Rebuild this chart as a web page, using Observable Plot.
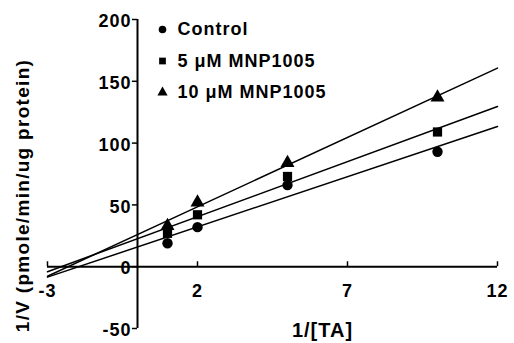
<!DOCTYPE html>
<html><head><meta charset="utf-8">
<script src="https://cdn.jsdelivr.net/npm/d3@7"></script>
<script src="https://cdn.jsdelivr.net/npm/@observablehq/plot@0.6"></script>
<style>
body{margin:0;background:#fff;}
#chart{width:514px;height:343px;}
</style></head><body><div id="chart"></div>
<script>
const xValues = [1, 2, 5, 10];
const seriesNames = ["Control", "5 μM MNP1005", "10 μM MNP1005"];
const seriesSymbols = ["circle", "square", "triangle"];
const control = [19, 32, 66, 93];
const mnp5 = [27, 42, 73, 109];
const mnp10 = [33, 52, 84, 137];
const xTicks = [-3, 2, 7, 12];
const yTicks = [-50, 0, 50, 100, 150, 200];
const xTitle = "1/[TA]";
const yTitle = "1/V (pmole/min/ug protein)";
const lineExtent = [-3, 12];

const seriesValues = [control, mnp5, mnp10];
const points = [];
seriesValues.forEach((ys, s) => ys.forEach((y, i) => points.push({series: seriesNames[s], x: xValues[i], y})));

function fit(ys) {
  const mx = d3.mean(xValues), my = d3.mean(ys);
  let sxy = 0, sxx = 0;
  xValues.forEach((x, i) => { sxy += (x - mx) * (ys[i] - my); sxx += (x - mx) ** 2; });
  const b = sxy / sxx;
  return {a: my - b * mx, b};
}
const fitLines = [];
seriesValues.forEach((ys, s) => {
  const {a, b} = fit(ys);
  lineExtent.forEach(x => fitLines.push({series: seriesNames[s], x, y: a + b * x}));
});

const font = "'Liberation Sans', Arial, Helvetica, sans-serif";
const legendMarks = seriesNames.flatMap((name, i) => [
  Plot.dot([name], {frameAnchor: "top-left", dx: 115, dy: 10 + 31.5 * i, symbol: seriesSymbols[i], fill: "black", r: 3.8}),
  Plot.text([name], {frameAnchor: "top-left", dx: 130, dy: 10 + 31.5 * i, text: d => d, textAnchor: "start", lineAnchor: "middle", fontSize: 18, fontWeight: "bold", fill: "black"})
]);

const chart = Plot.plot({
  width: 514, height: 343,
  marginLeft: 47, marginRight: 17, marginTop: 19, marginBottom: 15,
  x: {domain: [-3, 12], axis: null},
  y: {domain: [-50, 200], axis: null},
  symbol: {domain: seriesNames, range: seriesSymbols},
  style: {fontFamily: font, background: "white", color: "black"},
  marks: [
    Plot.ruleY([0], {x1: xTicks[0], x2: xTicks[xTicks.length - 1], stroke: "black", strokeWidth: 2}),
    Plot.ruleX([0], {y1: yTicks[0], y2: yTicks[yTicks.length - 1], stroke: "black", strokeWidth: 2}),
    Plot.ruleX(xTicks, {x: d => d, y1: 0, y2: 4, stroke: "black", strokeWidth: 1.5}),
    Plot.ruleY(yTicks, {y: d => d, x1: 0, x2: -0.17, stroke: "black", strokeWidth: 1.5}),
    Plot.text(xTicks, {x: d => d, y: 0, dy: 25, text: d => String(d), fontSize: 18, fontWeight: "bold", fill: "black"}),
    Plot.text(yTicks, {x: 0, y: d => d, dx: -6, dy: 2, text: d => String(d), textAnchor: "end", fontSize: 18, fontWeight: "bold", fill: "black"}),
    Plot.line(fitLines, {x: "x", y: "y", z: "series", stroke: "black", strokeWidth: 1.5}),
    Plot.dot(points, {x: "x", y: "y", symbol: "series", fill: "black", r: 5.2}),
    ...legendMarks,
    Plot.text([xTitle], {frameAnchor: "bottom", dx: 50, dy: 8, text: d => d, textAnchor: "middle", fontSize: 20, fontWeight: "bold", fill: "black"}),
    Plot.text([yTitle], {frameAnchor: "left", dx: -25, dy: 21.5, rotate: -90, text: d => d, textAnchor: "middle", lineAnchor: "middle", fontSize: 19, fontWeight: "bold", fill: "black", className: "ytitle"})
  ]
});
document.getElementById("chart").appendChild(chart);
d3.select(chart).selectAll("text").style("letter-spacing", "1px");
d3.select(chart).selectAll(".ytitle text").style("letter-spacing", "1.3px");
</script></body></html>
